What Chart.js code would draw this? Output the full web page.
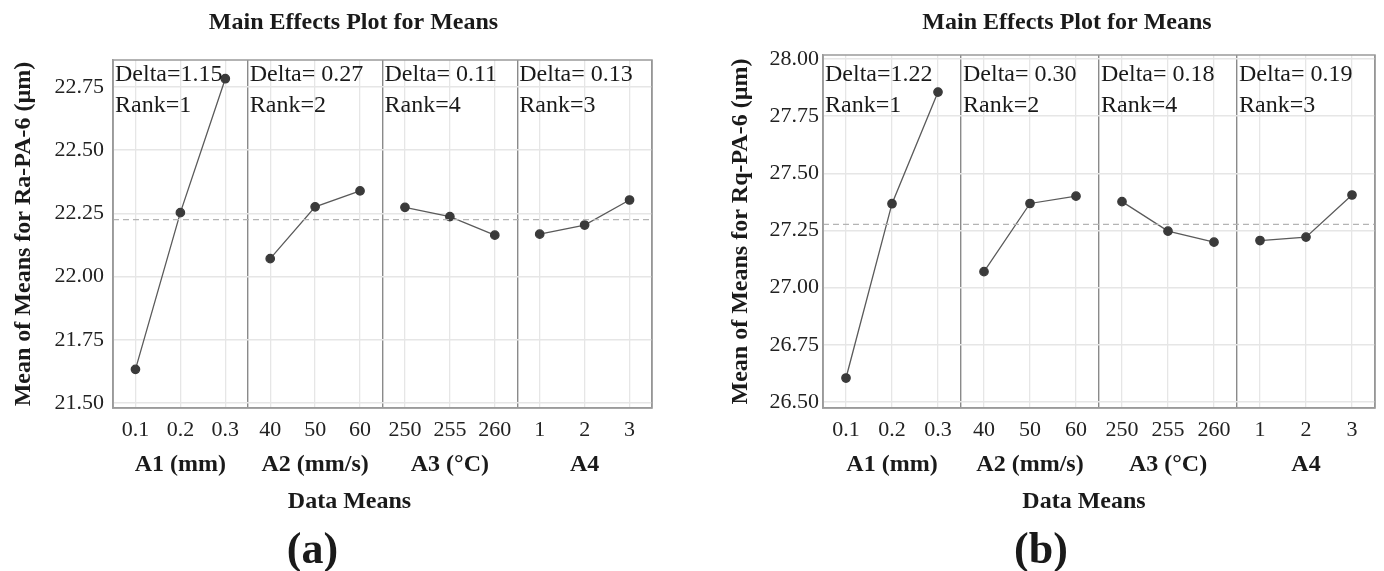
<!DOCTYPE html>
<html>
<head>
<meta charset="utf-8">
<title>Main Effects Plot for Means</title>
<script src="https://cdn.jsdelivr.net/npm/chart.js"></script>
<style>
  html, body { margin: 0; padding: 0; background: #fff; }
  #wrap { position: relative; width: 1384px; height: 571px; }
  .box { position: absolute; top: 0; width: 692px; height: 571px; }
</style>
</head>
<body>
<div id="wrap">
  <div class="box" style="left:0"><canvas id="chartA" width="692" height="571"></canvas></div>
  <div class="box" style="left:692px"><canvas id="chartB" width="692" height="571"></canvas></div>
</div>
<script>
// factor levels (x tick labels) and factor names
var levelsA1 = ["0.1", "0.2", "0.3"];
var levelsA2 = ["40", "50", "60"];
var levelsA3 = ["250", "255", "260"];
var levelsA4 = ["1", "2", "3"];
var factorNames = ["A1 (mm)", "A2 (mm/s)", "A3 (°C)", "A4"];

// (a) means for Ra-PA-6
var raA1 = [21.633, 22.253, 22.783];
var raA2 = [22.071, 22.276, 22.339];
var raA3 = [22.274, 22.237, 22.164];
var raA4 = [22.168, 22.204, 22.303];
var raDelta = ["Delta=1.15", "Delta= 0.27", "Delta= 0.11", "Delta= 0.13"];
var raRank = [1, 2, 4, 3];
var raTicks = [21.50, 21.75, 22.00, 22.25, 22.50, 22.75];

// (b) means for Rq-PA-6
var rqA1 = [26.605, 27.367, 27.855];
var rqA2 = [27.070, 27.368, 27.400];
var rqA3 = [27.376, 27.247, 27.199];
var rqA4 = [27.206, 27.221, 27.405];
var rqDelta = ["Delta=1.22", "Delta= 0.30", "Delta= 0.18", "Delta= 0.19"];
var rqRank = [1, 2, 4, 3];
var rqTicks = [26.50, 26.75, 27.00, 27.25, 27.50, 27.75, 28.00];

var serif = "'Liberation Serif', 'Times New Roman', serif";
var allLevels = [].concat(levelsA1, levelsA2, levelsA3, levelsA4);

// frame, delta/rank notes, titles and panel tag
var panelText = {
  id: 'panelText',
  afterDatasetsDraw: function (chart, args, o) {
    var ctx = chart.ctx, a = chart.chartArea, xs = chart.scales.x;
    ctx.save();
    ctx.strokeStyle = '#9a9a9a';
    ctx.lineWidth = 1.5;
    ctx.strokeRect(a.left, a.top, a.right - a.left, a.bottom - a.top);
    ctx.fillStyle = '#1a1a1a';
    ctx.textBaseline = 'middle';
    ctx.textAlign = 'left';
    ctx.font = '24px ' + serif;
    for (var g = 0; g < 4; g++) {
      var gx = xs.getPixelForValue(g * 3) + 2;
      ctx.fillText(o.delta[g], gx, 75);
      ctx.fillText('Rank=' + o.rank[g], gx, 106);
    }
    var cx = (a.left + a.right) / 2;
    ctx.textAlign = 'center';
    ctx.font = 'bold 24px ' + serif;
    ctx.fillText('Main Effects Plot for Means', cx + o.titleDx, 23);
    ctx.fillText('Data Means', cx + o.meansDx, 502);
    ctx.font = 'bold 44px ' + serif;
    ctx.fillText(o.tag, cx + o.tagDx, 552);
    ctx.restore();
  }
};

function buildChart(id, c) {
  var datasets = [];
  var all = [];
  c.groups.forEach(function (vals, g) {
    all = all.concat(vals);
    datasets.push({
      data: vals.map(function (v, i) { return { x: g * 3 + i + 0.5, y: v }; }),
      showLine: true,
      borderColor: '#5a5a5a',
      borderWidth: 1.3,
      pointRadius: 4.2,
      pointBackgroundColor: '#3a3a3a',
      pointBorderColor: '#3a3a3a'
    });
  });
  var mean = all.reduce(function (s, v) { return s + v; }, 0) / all.length;
  datasets.unshift({
    data: [{ x: 0, y: mean }, { x: 12, y: mean }],
    showLine: true,
    borderColor: '#b4b4b4',
    borderDash: [6, 4],
    borderWidth: 1.4,
    pointRadius: 0
  });

  return new Chart(document.getElementById(id).getContext('2d'), {
    type: 'scatter',
    data: { datasets: datasets },
    plugins: [panelText],
    options: {
      responsive: false,
      animation: false,
      layout: { padding: { top: c.padTop, left: c.padLeft, right: c.padRight, bottom: 83 } },
      plugins: {
        legend: { display: false },
        tooltip: { enabled: false },
        panelText: { delta: c.delta, rank: c.rank, tag: c.tag, titleDx: c.titleDx, meansDx: c.meansDx, tagDx: c.tagDx }
      },
      scales: {
        x: {
          type: 'linear', min: 0, max: 12, weight: 0,
          afterFit: function (s) { s.height = 40; },
          ticks: {
            stepSize: 0.5, autoSkip: false, maxRotation: 0, minRotation: 0, padding: 9,
            color: '#222', font: { family: serif, size: 22 },
            callback: function (v) {
              var k = v - 0.5;
              if (Math.abs(k - Math.round(k)) < 1e-6 && k >= 0 && k < 12) return allLevels[Math.round(k)];
              return '';
            }
          },
          grid: {
            drawTicks: false,
            color: function (ctx) {
              var v = ctx.tick.value;
              if (Math.abs(v % 3) < 1e-6) return '#8a8a8a';
              if (Math.abs((v % 1) - 0.5) < 1e-6) return '#e6e6e6';
              return 'rgba(0,0,0,0)';
            },
            lineWidth: function (ctx) { return Math.abs(ctx.tick.value % 3) < 1e-6 ? 1.4 : 1.3; }
          },
          border: { color: '#9a9a9a', width: 1.5 }
        },
        x2: {
          type: 'linear', min: 0, max: 12, position: 'bottom', weight: 1,
          afterBuildTicks: function (s) { s.ticks = [1.5, 4.5, 7.5, 10.5].map(function (v) { return { value: v }; }); },
          afterFit: function (s) { s.height = 40; },
          ticks: {
            autoSkip: false, maxRotation: 0, minRotation: 0, padding: 2,
            color: '#1a1a1a', font: { family: serif, size: 24, weight: 'bold' },
            callback: function (v, i) { return factorNames[i]; }
          },
          grid: { display: false, drawTicks: false },
          border: { display: false }
        },
        y: {
          min: c.yMin, max: c.yMax,
          afterBuildTicks: function (s) { s.ticks = c.yTicks.map(function (v) { return { value: v }; }); },
          afterFit: function (s) { s.width = c.yWidth; },
          ticks: {
            padding: c.yPad, color: '#222', font: { family: serif, size: 22 },
            callback: function (v) { return Number(v).toFixed(2); }
          },
          grid: { drawTicks: false, color: '#e6e6e6', lineWidth: 1.5 },
          border: { color: '#9a9a9a', width: 1.5 },
          title: {
            display: true, text: c.yTitle, color: '#1a1a1a',
            font: { family: serif, size: 24, weight: 'bold' },
            padding: { top: 9, bottom: 0 }
          }
        }
      }
    }
  });
}

buildChart('chartA', {
  groups: [raA1, raA2, raA3, raA4], delta: raDelta, rank: raRank, yTicks: raTicks,
  yMin: 21.48, yMax: 22.857, yTitle: 'Mean of Means for Ra-PA-6 (µm)',
  padTop: 60, padLeft: 0, padRight: 40, yWidth: 113, yPad: 9,
  tag: '(a)', titleDx: -29, meansDx: -33, tagDx: -70
});

buildChart('chartB', {
  groups: [rqA1, rqA2, rqA3, rqA4], delta: rqDelta, rank: rqRank, yTicks: rqTicks,
  yMin: 26.474, yMax: 28.017, yTitle: 'Mean of Means for Rq-PA-6 (µm)',
  padTop: 55, padLeft: 25, padRight: 9, yWidth: 106, yPad: 4,
  tag: '(b)', titleDx: -32, meansDx: -15, tagDx: -58
});
</script>
</body>
</html>
